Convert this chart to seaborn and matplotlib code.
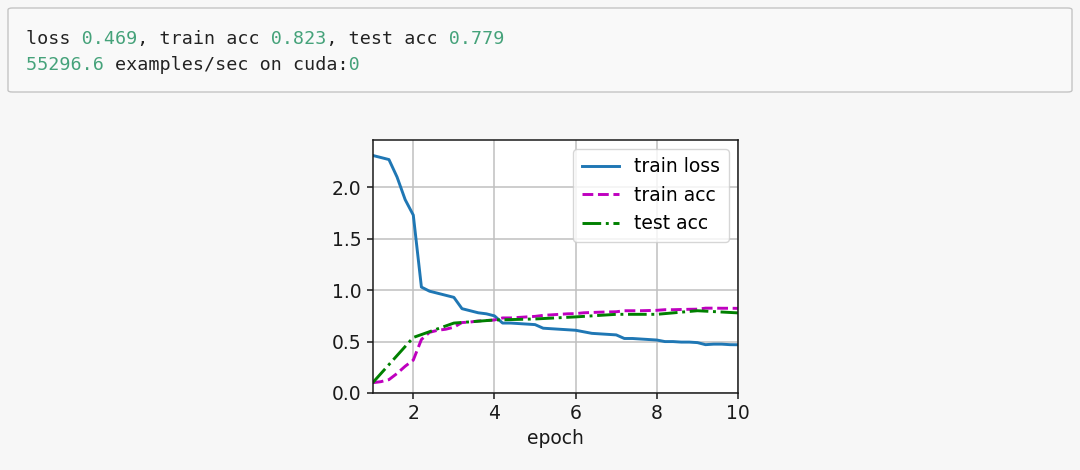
import matplotlib
matplotlib.use("Agg")
import matplotlib.pyplot as plt
import seaborn as sns
from matplotlib.patches import FancyBboxPatch

# training log values
batch_epochs = [1.0, 1.2, 1.4, 1.6, 1.8, 2.0, 2.2, 2.4, 2.6, 2.8,
                3.0, 3.2, 3.4, 3.6, 3.8, 4.0, 4.2, 4.4, 4.6, 4.8,
                5.0, 5.2, 5.4, 5.6, 5.8, 6.0, 6.2, 6.4, 6.6, 6.8,
                7.0, 7.2, 7.4, 7.6, 7.8, 8.0, 8.2, 8.4, 8.6, 8.8,
                9.0, 9.2, 9.4, 9.6, 9.8, 10.0]
train_loss = [2.31, 2.29, 2.27, 2.10, 1.88, 1.73, 1.03, 0.99, 0.97, 0.95,
              0.93, 0.82, 0.80, 0.78, 0.77, 0.75, 0.68, 0.68, 0.675, 0.67,
              0.665, 0.63, 0.625, 0.62, 0.615, 0.61, 0.595, 0.58, 0.575, 0.57,
              0.565, 0.53, 0.53, 0.525, 0.52, 0.515, 0.50, 0.50, 0.495, 0.495,
              0.49, 0.47, 0.475, 0.475, 0.47, 0.469]
train_acc = [0.10, 0.11, 0.13, 0.19, 0.26, 0.32, 0.52, 0.59, 0.61, 0.62,
             0.64, 0.685, 0.69, 0.70, 0.705, 0.71, 0.73, 0.73, 0.735, 0.74,
             0.745, 0.755, 0.76, 0.765, 0.77, 0.772, 0.78, 0.783, 0.786, 0.788,
             0.79, 0.80, 0.80, 0.80, 0.802, 0.804, 0.81, 0.81, 0.812, 0.814,
             0.815, 0.825, 0.825, 0.824, 0.824, 0.823]
test_epochs = [1, 2, 3, 4, 5, 6, 7, 8, 9, 10]
test_acc = [0.10, 0.54, 0.68, 0.71, 0.72, 0.74, 0.765, 0.765, 0.80, 0.779]

log_line1 = ["loss ", "0.469", ", train acc ", "0.823", ", test acc ", "0.779"]
log_line2 = ["55296.6", " examples/sec on cuda:", "0"]
log_green1 = [False, True, False, True, False, True]
log_green2 = [True, False, True]

BG = "#f7f7f7"
GREEN_TXT = "#45a27a"
DARK_TXT = "#222222"

fig = plt.figure(figsize=(10.8, 4.7), dpi=100)
fig.patch.set_facecolor(BG)

# output cell box
box = FancyBboxPatch((8 / 1080, 1 - 92 / 470), 1064 / 1080, 84 / 470,
                     boxstyle="round,pad=0,rounding_size=0.004",
                     transform=fig.transFigure, facecolor="#f9f9f9",
                     edgecolor="#c4c4c4", linewidth=1.0)
fig.patches.append(box)


def mono_line(parts, green, y):
    # draw the black and the green characters as two aligned monospace strings
    black = "".join(p if not g else " " * len(p) for p, g in zip(parts, green))
    col = "".join(p if g else " " * len(p) for p, g in zip(parts, green))
    for s, c in ((black, DARK_TXT), (col, GREEN_TXT)):
        fig.text(26 / 1080, y, s, color=c, family="DejaVu Sans Mono",
                 fontsize=13.2, va="center", ha="left")


mono_line(log_line1, log_green1, 1 - 38.5 / 470)
mono_line(log_line2, log_green2, 1 - 64.5 / 470)

ax = fig.add_axes([372.7 / 1080, (470 - 393) / 470,
                   (738 - 372.7) / 1080, (393 - 139.5) / 470])
ax.set_facecolor("white")

sns.lineplot(x=batch_epochs, y=train_loss, ax=ax, color="#1f77b4",
             linestyle="-", linewidth=2.1, label="train loss")
sns.lineplot(x=batch_epochs, y=train_acc, ax=ax, color="m",
             linestyle="--", linewidth=2.1, label="train acc")
sns.lineplot(x=test_epochs, y=test_acc, ax=ax, color="g",
             linestyle="-.", linewidth=2.1, label="test acc")

ax.set_xlim(1, 10)
ax.set_ylim(0, 2.465)
ax.set_xticks([2, 4, 6, 8, 10])
ax.set_yticks([0.0, 0.5, 1.0, 1.5, 2.0])
ax.set_yticklabels(["0.0", "0.5", "1.0", "1.5", "2.0"])
ax.grid(True, color="#c0c0c0", linewidth=1.1)
ax.set_axisbelow(True)
ax.tick_params(labelsize=13.5, length=4.5, width=1.1, colors="#1a1a1a")
for sp in ax.spines.values():
    sp.set_linewidth(1.1)
    sp.set_color("#1a1a1a")
ax.set_xlabel("epoch", fontsize=13.5, color="#1a1a1a", labelpad=4)
ax.set_ylabel("")

leg = ax.legend(loc="upper right", fontsize=13.5, handlelength=2.0,
                borderpad=0.45, labelspacing=0.5, framealpha=0.8,
                edgecolor="#cccccc")

fig.savefig("out.png", dpi=100, facecolor=BG)
